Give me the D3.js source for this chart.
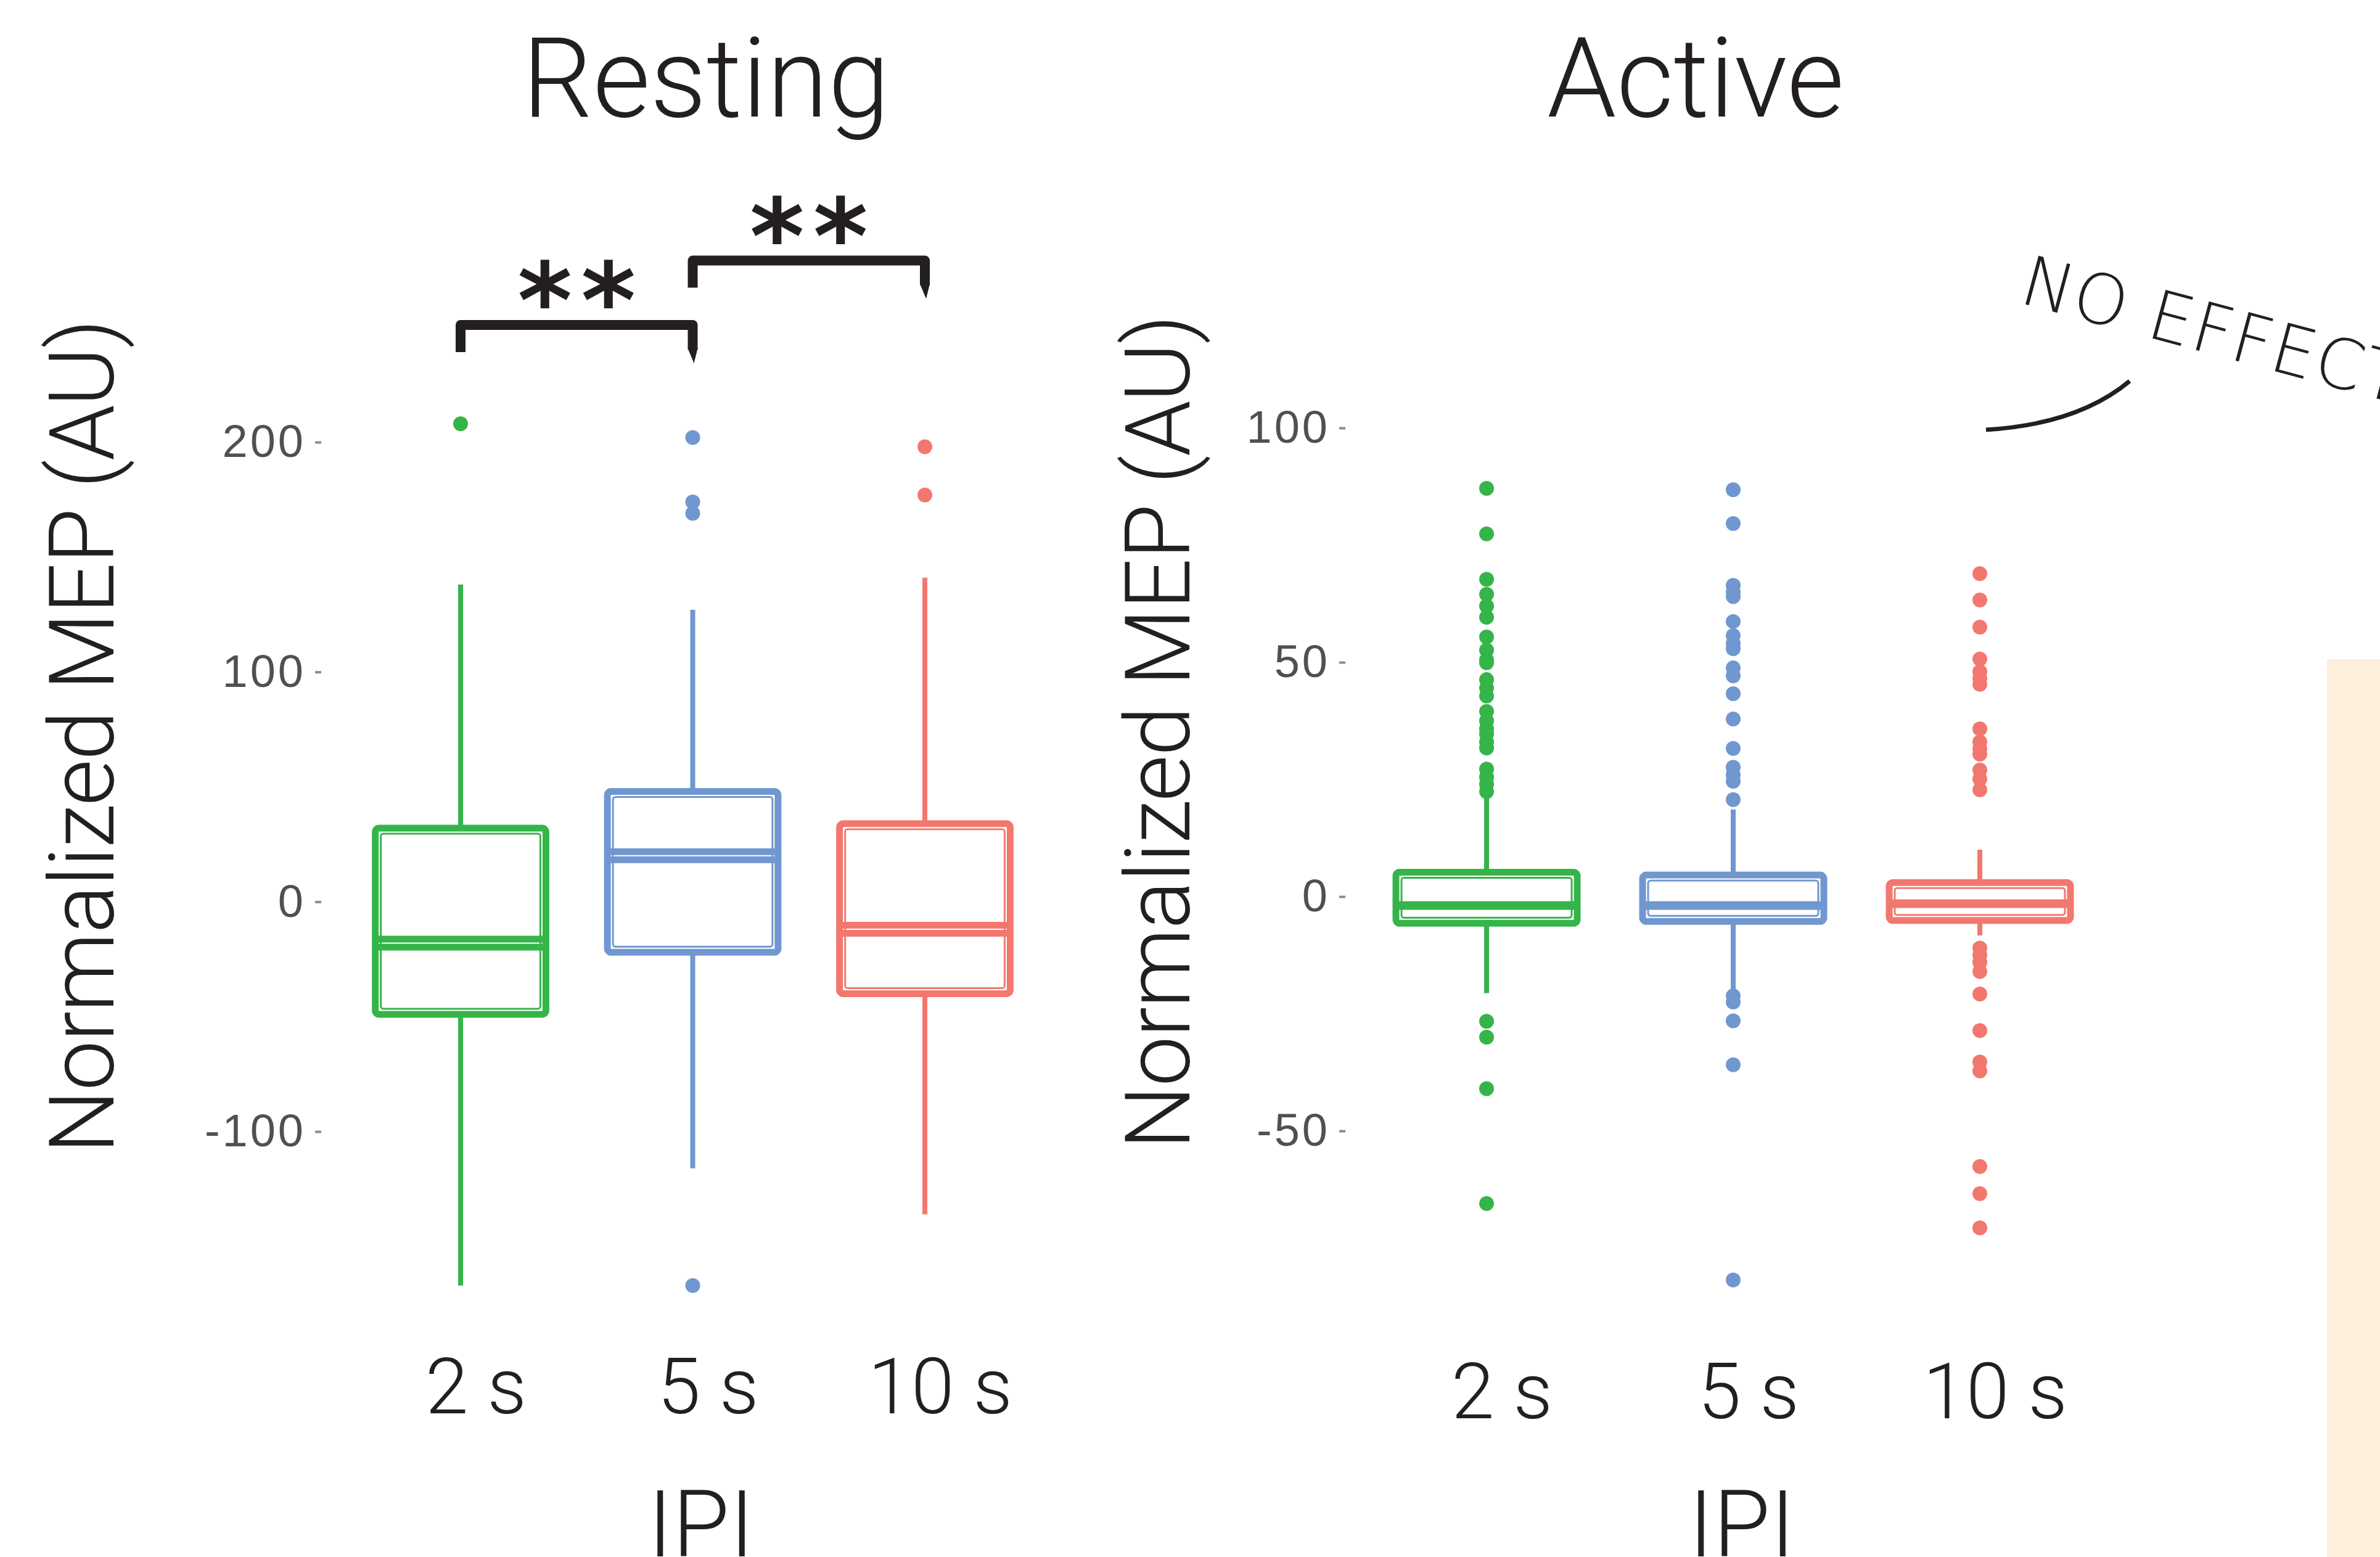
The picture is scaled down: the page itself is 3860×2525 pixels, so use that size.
<!DOCTYPE html>
<html lang="en">
<head>
<meta charset="UTF-8">
<title>Normalized MEP by IPI</title>
<script src="https://d3js.org/d3.v7.min.js"></script>
<style>
  body { margin: 0; background: #fff; }
  svg { display: block; }
  .tick text { font-family: "Liberation Sans", Arial, sans-serif; font-size: 74px; fill: #505050; letter-spacing: 4px; }
  .tick line { stroke: #8c8c8c; stroke-width: 4; }
  .title, .axis-title, .cat { font-family: Roboto, "Open Sans", sans-serif; font-weight: 300; fill: #231f20; }
  .stars { font-family: "DejaVu Sans", sans-serif; font-weight: bold; fill: #231f20; }
</style>
</head>
<body>
<div id="chart"></div>
<script>
const categories = ['2 s', '5 s', '10 s'];
const colors = ['#35b44a', '#7097cf', '#f2786f'];

// Resting panel
const restingHigh = [138, 127, 141];
const restingQ3 = [32, 48, 34];
const restingMedian = [-18, 20, -12];
const restingQ1 = [-49, -22, -40];
const restingLow = [-167, -116, -136];
const restingOutliers = [[208], [202, 174, 169, -167], [198, 177]];
const restingTicks = [-100, 0, 100, 200];

// Active panel
const activeHigh = [21, 18.6, 10];
const activeQ3 = [5.2, 4.6, 3.0];
const activeMedian = [-1.9, -1.9, -1.5];
const activeQ1 = [-5.7, -5.3, -5.1];
const activeLow = [-20.6, -20.3, -8.3];
const activeOutliers = [
  [87.1, 77.4, 67.7, 64.5, 62, 59.6, 55.4, 52.6, 50.5, 49.9, 46.3, 44.5, 42.8, 39.5, 37.5, 35.8, 34.7, 33, 31.7, 27.2, 25.5, 24, 22.4, -26.6, -30, -41, -65.5],
  [86.8, 79.6, 66.4, 65, 64, 58.7, 55.7, 54, 52.9, 48.8, 47.1, 43.3, 37.9, 31.6, 27.6, 26, 24.6, 20.7, -21.2, -22.5, -26.5, -35.9, -81.8],
  [68.9, 63.3, 57.5, 50.7, 48, 46.5, 45.3, 35.8, 33, 31.5, 30.4, 27, 25.1, 22.8, -11, -12.5, -14, -16, -20.8, -28.6, -35.3, -37.2, -57.6, -63.4, -70.7]
];
const activeTicks = [-50, 0, 50, 100];

// significance brackets (resting panel)
const bracketFrom = ['2 s', '5 s'];
const bracketTo = ['5 s', '10 s'];
const bracketLevel = [251, 279];
const bracketLabel = ['**', '**'];

const width = 3860, height = 2525;
const ink = '#231f20';

const svg = d3.select('#chart').append('svg')
    .attr('width', width)
    .attr('height', height);

svg.append('rect').attr('width', width).attr('height', height).attr('fill', '#fff');

// beige strip at the right edge
svg.append('rect')
    .attr('x', 3774).attr('y', 1069)
    .attr('width', width - 3774).attr('height', height - 1069)
    .attr('fill', '#fdefdc');

const panels = [
    { title: 'Resting', titleX: 1145, xRange: [747, 1500], yDomain: [-100, 200], yRange: [1835, 717],
      axisX: 521, yTitleX: 184, yTitleY: 1194, catY: 2292, ipiX: 1137,
      high: restingHigh, q3: restingQ3, med: restingMedian, q1: restingQ1, low: restingLow,
      out: restingOutliers, ticks: restingTicks, medGap: 6.5, medW: 11 },
    { title: 'Active', titleX: 2750, xRange: [2411, 3211], yDomain: [-50, 100], yRange: [1834, 694],
      axisX: 2182, yTitleX: 1929, yTitleY: 1187, catY: 2300, ipiX: 2825,
      high: activeHigh, q3: activeQ3, med: activeMedian, q1: activeQ1, low: activeLow,
      out: activeOutliers, ticks: activeTicks, medGap: 0, medW: 14 }
];

panels.forEach(function (p, pi) {
    const x = d3.scalePoint().domain(categories).range(p.xRange);
    const y = d3.scaleLinear().domain(p.yDomain).range(p.yRange);
    const boxW = x.step() * 0.735;
    const g = svg.append('g');

    // y axis: labels + tiny ticks, no domain line
    const axis = g.append('g')
        .attr('transform', `translate(${p.axisX},0)`)
        .call(d3.axisLeft(y).tickValues(p.ticks).tickSize(10).tickPadding(15).tickFormat(d => String(d)));
    axis.select('.domain').remove();

    categories.forEach(function (c, i) {
        const cx = x(c), col = colors[i];
        const top = y(p.q3[i]), bot = y(p.q1[i]);

        // whiskers
        g.append('line')
            .attr('x1', cx).attr('x2', cx)
            .attr('y1', top).attr('y2', y(p.high[i]))
            .attr('stroke', col).attr('stroke-width', 8);
        g.append('line')
            .attr('x1', cx).attr('x2', cx)
            .attr('y1', bot).attr('y2', y(p.low[i]))
            .attr('stroke', col).attr('stroke-width', 8);

        // box, drawn twice for the sketchy double line
        g.append('rect')
            .attr('x', cx - boxW / 2).attr('y', top)
            .attr('width', boxW).attr('height', bot - top)
            .attr('rx', 6)
            .attr('fill', '#fff').attr('stroke', col).attr('stroke-width', 11);
        g.append('rect')
            .attr('x', cx - boxW / 2 + 9).attr('y', top + 9)
            .attr('width', boxW - 18).attr('height', Math.max(0, bot - top - 18))
            .attr('rx', 4)
            .attr('fill', 'none').attr('stroke', col).attr('stroke-width', 3);

        // median
        const my = y(p.med[i]);
        const offs = p.medGap ? [-p.medGap, p.medGap] : [0];
        offs.forEach(function (o) {
            g.append('line')
                .attr('x1', cx - boxW / 2).attr('x2', cx + boxW / 2)
                .attr('y1', my + o).attr('y2', my + o)
                .attr('stroke', col).attr('stroke-width', p.medW);
        });

        // outliers
        g.selectAll(null)
            .data(p.out[i])
            .enter().append('circle')
            .attr('cx', cx)
            .attr('cy', d => y(d))
            .attr('r', 12)
            .attr('fill', col);
    });

    // panel title
    g.append('text')
        .attr('class', 'title')
        .attr('x', p.titleX).attr('y', 189)
        .attr('text-anchor', 'middle')
        .attr('font-size', 180)
        .text(p.title);

    // y title
    g.append('text')
        .attr('class', 'axis-title')
        .attr('transform', `translate(${p.yTitleX},${p.yTitleY}) rotate(-90)`)
        .attr('text-anchor', 'middle')
        .attr('font-size', 146)
        .attr('textLength', 1354)
        .attr('lengthAdjust', 'spacing')
        .text('Normalized MEP (AU)');

    // category labels
    g.selectAll(null)
        .data(categories)
        .enter().append('text')
        .attr('class', 'cat')
        .attr('x', d => x(d) + 25)
        .attr('y', p.catY)
        .attr('text-anchor', 'middle')
        .attr('font-size', 126)
        .text(d => d);

    // x title (cut by the bottom edge, as in the original)
    g.append('text')
        .attr('class', 'axis-title')
        .attr('x', p.ipiX).attr('y', 2524)
        .attr('text-anchor', 'middle')
        .attr('font-size', 150)
        .text('IPI');

    if (pi === 0) {
        bracketFrom.forEach(function (f, i) {
            const x1 = x(f), x2 = x(bracketTo[i]), by = y(bracketLevel[i]);
            g.append('path')
                .attr('d', `M${x1},${by + 44} V${by} H${x2} V${by + 40}`)
                .attr('fill', 'none')
                .attr('stroke', ink).attr('stroke-width', 16)
                .attr('stroke-linejoin', 'round');
            // tapered tail on the right leg
            g.append('path')
                .attr('d', `M${x2 - 8},${by + 38} L${x2 + 8},${by + 38} L${x2 + 2},${by + 62} Z`)
                .attr('fill', ink);
            g.append('text')
                .attr('class', 'stars')
                .attr('x', (x1 + x2) / 2 + 7).attr('y', by + 20)
                .attr('text-anchor', 'middle')
                .attr('font-size', 170)
                .attr('letter-spacing', 14)
                .text(bracketLabel[i]);
        });
    }
});

// "no effect" note on the active panel
svg.append('path')
    .attr('d', 'M3221,697 Q3370,688 3454,618')
    .attr('fill', 'none')
    .attr('stroke', ink).attr('stroke-width', 7);
svg.append('text')
    .attr('transform', 'translate(3272,490) rotate(15)')
    .attr('font-family', '"DejaVu Sans", sans-serif')
    .attr('font-weight', 200)
    .attr('font-size', 112)
    .attr('fill', ink)
    .attr('textLength', 640)
    .attr('lengthAdjust', 'spacing')
    .text('NO EFFECT');
</script>
</body>
</html>
